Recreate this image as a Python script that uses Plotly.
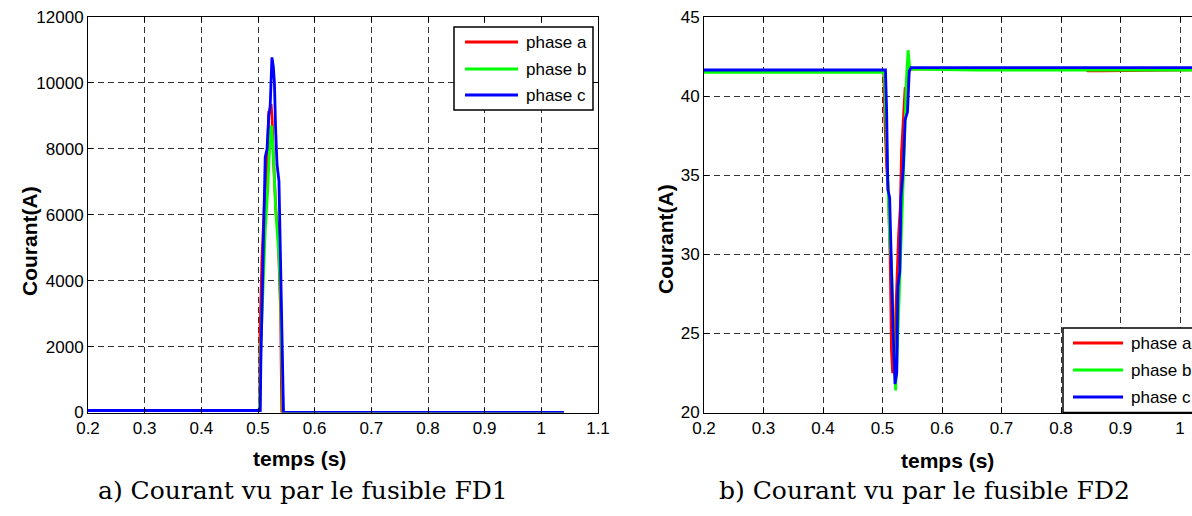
import plotly.graph_objects as go

W, H = 1192, 516

# ---------------- data: a) fuse FD1 ----------------
t_fd1_a = [0.2, 0.503, 0.5035, 0.507, 0.511, 0.514, 0.517, 0.519, 0.521, 0.523, 0.525, 0.527,
           0.529, 0.532, 0.535, 0.538, 0.540, 0.5415, 0.542, 1.04]
i_fd1_a = [60, 60, 2400, 4700, 6200, 7000, 7950, 9150, 9100, 9360, 8900, 7800,
           6940, 6000, 5700, 4200, 3000, 600, 0, 0]

t_fd1_b = [0.2, 0.503, 0.505, 0.509, 0.513, 0.517, 0.520, 0.522, 0.524, 0.526, 0.528, 0.531,
           0.534, 0.537, 0.540, 0.542, 0.5435, 0.544, 1.04]
i_fd1_b = [55, 55, 2000, 4000, 5600, 6700, 8000, 8600, 8700, 8200, 7500, 6200,
           5400, 4700, 3500, 2200, 500, 0, 0]

t_fd1_c = [0.2, 0.504, 0.505, 0.507, 0.509, 0.511, 0.5127, 0.516, 0.519, 0.5215, 0.5233, 0.5246,
           0.527, 0.529, 0.531, 0.5335, 0.537, 0.539, 0.541, 0.5437, 0.545, 1.04]
i_fd1_c = [60, 60, 1500, 3000, 5000, 6000, 7750, 8000, 9000, 9300, 10000, 10775,
           10500, 10000, 8650, 7540, 7020, 5000, 4010, 1080, 0, 0]

# ---------------- data: b) fuse FD2 ----------------
t_fd2_a = [0.2, 0.502, 0.504, 0.507, 0.510, 0.513, 0.515, 0.517, 0.519, 0.522, 0.525, 0.527,
           0.530, 0.532, 0.535, 0.538, 0.541, 0.545, 0.65, 0.84, 0.845, 0.87, 1.1]
i_fd2_a = [41.6, 41.6, 38.5, 35.5, 34.0, 29.5, 24.0, 22.5, 22.6, 25.5, 29.5, 31.2,
           33.0, 36.5, 38.5, 40.5, 40.6, 41.7, 41.75, 41.75, 41.6, 41.6, 41.7]

t_fd2_b = [0.2, 0.503, 0.506, 0.509, 0.512, 0.515, 0.518, 0.522, 0.525, 0.528, 0.531, 0.534,
           0.537, 0.540, 0.543, 0.546, 0.66, 1.1]
i_fd2_b = [41.5, 41.5, 38.3, 35.0, 31.0, 29.5, 26.0, 21.4, 24.0, 27.0, 31.0, 34.0,
           37.0, 41.0, 42.9, 41.7, 41.65, 41.65]

t_fd2_c = [0.2, 0.505, 0.507, 0.509, 0.512, 0.515, 0.518, 0.521, 0.524, 0.526, 0.529, 0.531,
           0.535, 0.538, 0.542, 0.545, 0.548, 1.1]
i_fd2_c = [41.65, 41.65, 39.0, 34.1, 33.6, 29.0, 25.0, 21.8, 22.5, 28.0, 28.9, 33.5,
           35.5, 38.5, 39.0, 41.6, 41.8, 41.8]

phase_names = ["phase a", "phase b", "phase c"]
phase_colors = ["#ff0000", "#00ff00", "#0000ff"]

x_ticks = [0.2, 0.3, 0.4, 0.5, 0.6, 0.7, 0.8, 0.9, 1.0, 1.1]
x_tick_text = ["0.2", "0.3", "0.4", "0.5", "0.6", "0.7", "0.8", "0.9", "1", "1.1"]
y1_ticks = [0, 2000, 4000, 6000, 8000, 10000, 12000]
y2_ticks = [20, 25, 30, 35, 40, 45]

x_label = "temps (s)"
y_label = "Courant(A)"
caption_a = "a) Courant vu par le fusible FD1"
caption_b = "b) Courant vu par le fusible FD2"

# ---------------- figure ----------------
fig = go.Figure()
fd1 = [(t_fd1_a, i_fd1_a), (t_fd1_b, i_fd1_b), (t_fd1_c, i_fd1_c)]
fd2 = [(t_fd2_a, i_fd2_a), (t_fd2_b, i_fd2_b), (t_fd2_c, i_fd2_c)]
for (t, v), name, col in zip(fd1, phase_names, phase_colors):
    fig.add_trace(go.Scatter(x=t, y=v, mode="lines", name=name, xaxis="x", yaxis="y",
                             line=dict(color=col, width=2.8), showlegend=False))
for (t, v), name, col in zip(fd2, phase_names, phase_colors):
    fig.add_trace(go.Scatter(x=t, y=v, mode="lines", name=name, xaxis="x2", yaxis="y2",
                             line=dict(color=col, width=2.8), showlegend=False))


def px(x):
    return x / W


def py(y):
    return 1 - y / H


L_X0, L_X1 = 88, 598
R_X0 = 704
R_PX_PER_UNIT = 595.0
Y_TOP, Y_BOT = 17, 412.5

tick_font = dict(family="Liberation Sans, Arial", size=17, color="black")
common = dict(showline=True, linecolor="black", linewidth=1, ticks="inside", ticklen=5,
              tickcolor="black", showgrid=True, gridcolor="#333333", griddash="6px,4px",
              gridwidth=1, zeroline=False, tickfont=tick_font, fixedrange=True)

fig.update_layout(
    width=W, height=H,
    margin=dict(l=0, r=0, t=0, b=0, autoexpand=False),
    paper_bgcolor="white", plot_bgcolor="white", showlegend=False,
    xaxis=dict(domain=[px(L_X0), px(L_X1)], range=[0.2, 1.1], anchor="y", mirror="ticks",
               tickvals=x_ticks, ticktext=x_tick_text, **common),
    yaxis=dict(domain=[py(Y_BOT), py(Y_TOP)], range=[0, 12000], anchor="x", mirror="ticks",
               tickvals=y1_ticks, ticktext=[str(v) for v in y1_ticks], **common),
    xaxis2=dict(domain=[px(R_X0), 1.0], range=[0.2, 0.2 + (W - R_X0) / R_PX_PER_UNIT],
                anchor="y2", mirror="ticks", tickvals=x_ticks, ticktext=x_tick_text, **common),
    yaxis2=dict(domain=[py(Y_BOT), py(Y_TOP)], range=[20, 45], anchor="x2", mirror=False,
                tickvals=y2_ticks, ticktext=[str(v) for v in y2_ticks], **common),
)

title_font = dict(family="Liberation Sans, Arial", size=21, color="black", weight="bold")
ann = []
ann.append(dict(x=px(30), y=py(241), text=y_label, textangle=-90, font=title_font))
ann.append(dict(x=px(299), y=py(458), text=x_label, font=title_font))
ann.append(dict(x=px(666), y=py(239), text=y_label, textangle=-90, font=title_font))
ann.append(dict(x=px(947), y=py(460), text=x_label, font=title_font))
cap_font = dict(family="DejaVu Serif", size=25, color="black")
ann.append(dict(x=px(303), y=py(490), text=caption_a, font=cap_font))
ann.append(dict(x=px(924), y=py(490), text=caption_b, font=cap_font))

shapes = []
leg_font = dict(family="Liberation Sans, Arial", size=17, color="black")


def add_legend(bx0, bx1, by0, by1, lx0, lx1, rows, tx):
    shapes.append(dict(type="rect", xref="paper", yref="paper", x0=px(bx0), x1=px(bx1),
                       y0=py(by1), y1=py(by0), line=dict(color="black", width=1.5),
                       fillcolor="white", layer="above"))
    for r, name, col in zip(rows, phase_names, phase_colors):
        shapes.append(dict(type="line", xref="paper", yref="paper", x0=px(lx0), x1=px(lx1),
                           y0=py(r), y1=py(r), line=dict(color=col, width=2.8), layer="above"))
        ann.append(dict(x=px(tx), y=py(r), text=name, xanchor="left", font=leg_font))


add_legend(454, 593, 27, 110, 465, 518, [42, 69, 95], 524)
add_legend(1063, 1215, 328, 412.5, 1073, 1123, [343, 370, 397], 1129)

for a in ann:
    a.setdefault("xref", "paper")
    a.setdefault("yref", "paper")
    a.setdefault("showarrow", False)
    a.setdefault("xanchor", "center")
    a.setdefault("yanchor", "middle")
fig.update_layout(annotations=ann, shapes=shapes)

fig.write_html("out.html", config={"displayModeBar": False},
               post_script="document.body.style.margin='0px';document.body.style.overflow='hidden';")
